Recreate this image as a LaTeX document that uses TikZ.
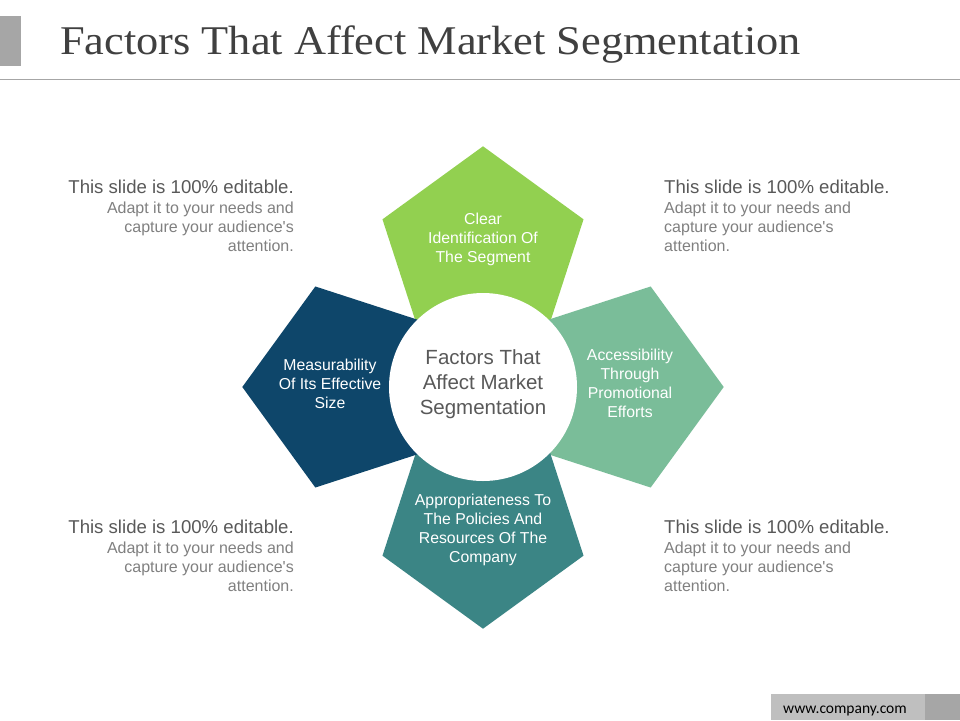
\documentclass[tikz,border=0pt]{standalone}
\usepackage{fontspec}
\setmainfont{Liberation Sans}[Ligatures=TeXOff]
\newfontfamily\titlefont{Liberation Serif}
\newfontfamily\urlfont{Carlito}
\usetikzlibrary{shapes.geometric}
\definecolor{cgreen}{HTML}{92D050}
\definecolor{cmint}{HTML}{7ABD99}
\definecolor{cteal}{HTML}{3B8585}
\definecolor{cnavy}{HTML}{0E466A}
\definecolor{ctitle}{HTML}{404040}
\definecolor{chead}{HTML}{595959}
\definecolor{cbody}{HTML}{808080}
\definecolor{cbar}{HTML}{A6A6A6}
\definecolor{cline}{HTML}{A6A6A6}
\definecolor{curlbox}{HTML}{BFBFBF}
\begin{document}
\begin{tikzpicture}[x=1pt,y=-1pt,
  pent/.style={regular polygon, regular polygon sides=5, minimum size=211.4pt, inner sep=0pt, draw=none},
  pentext/.style={text=white, align=center, font=\fontsize{15.8}{19}\selectfont, inner sep=0pt},
  headtext/.style={text=chead, font=\fontsize{18.6}{21}\selectfont, inner sep=0pt},
  bodytext/.style={text=cbody, font=\fontsize{16}{19}\selectfont, inner sep=0pt},
]
\useasboundingbox (0,0) rectangle (960,720);
\fill[white] (0,0) rectangle (960,720);
% header
\fill[cbar] (0,16) rectangle (21,66);
\node[anchor=base west, inner sep=0pt, text=ctitle, font=\titlefont\fontsize{40.8}{44}\selectfont] (title) at (60,54) {\scalebox{1.087}[1]{Factors That Affect Market Segmentation}};
\draw[cline, line width=1pt] (0,79) -- (960,79);
% pentagons
\node[pent, fill=cgreen] (ptop) at (483,252) {};
\node[pent, fill=cmint, shape border rotate=-90] (pright) at (618,387) {};
\node[pent, fill=cteal, shape border rotate=180] (pbottom) at (483,523) {};
\node[pent, fill=cnavy, shape border rotate=90] (pleft) at (348,387) {};
\node[circle, fill=white, minimum size=188pt, inner sep=0pt] (hub) at (483,387) {};
% texts
\node[pentext] (ttop) at (483,239) {Clear\\Identification Of\\The Segment};
\node[pentext] (tright) at (630,383.5) {Accessibility\\Through\\Promotional\\Efforts};
\node[pentext] (tbottom) at (483,530) {Appropriateness To\\The Policies And\\Resources Of The\\Company};
\node[pentext] (tleft) at (330,384) {Measurability\\Of Its Effective\\Size};
\node[text=chead, align=center, font=\fontsize{20.5}{25}\selectfont, inner sep=0pt] (thub) at (483,384) {Factors That\\Affect Market\\Segmentation};
% side blocks
\node[headtext, anchor=east] (h1) at (294,187) {This slide is 100\% editable.};
\node[bodytext, anchor=east, align=right] (b1) at (294,227) {Adapt it to your needs and\\capture your audience's\\attention.};
\node[headtext, anchor=west] (h2) at (664,187) {This slide is 100\% editable.};
\node[bodytext, anchor=west, align=left] (b2) at (664,227) {Adapt it to your needs and\\capture your audience's\\attention.};
\node[headtext, anchor=east] (h3) at (294,527) {This slide is 100\% editable.};
\node[bodytext, anchor=east, align=right] (b3) at (294,567) {Adapt it to your needs and\\capture your audience's\\attention.};
\node[headtext, anchor=west] (h4) at (664,527) {This slide is 100\% editable.};
\node[bodytext, anchor=west, align=left] (b4) at (664,567) {Adapt it to your needs and\\capture your audience's\\attention.};
% footer
\fill[curlbox] (771,694) rectangle (925,720);
\fill[cbar] (925,694) rectangle (960,720);
\node[inner sep=0pt, font=\urlfont\fontsize{15.5}{17}\selectfont, text=black] (url) at (845,711) {www.company.com};
\end{tikzpicture}
\end{document}
